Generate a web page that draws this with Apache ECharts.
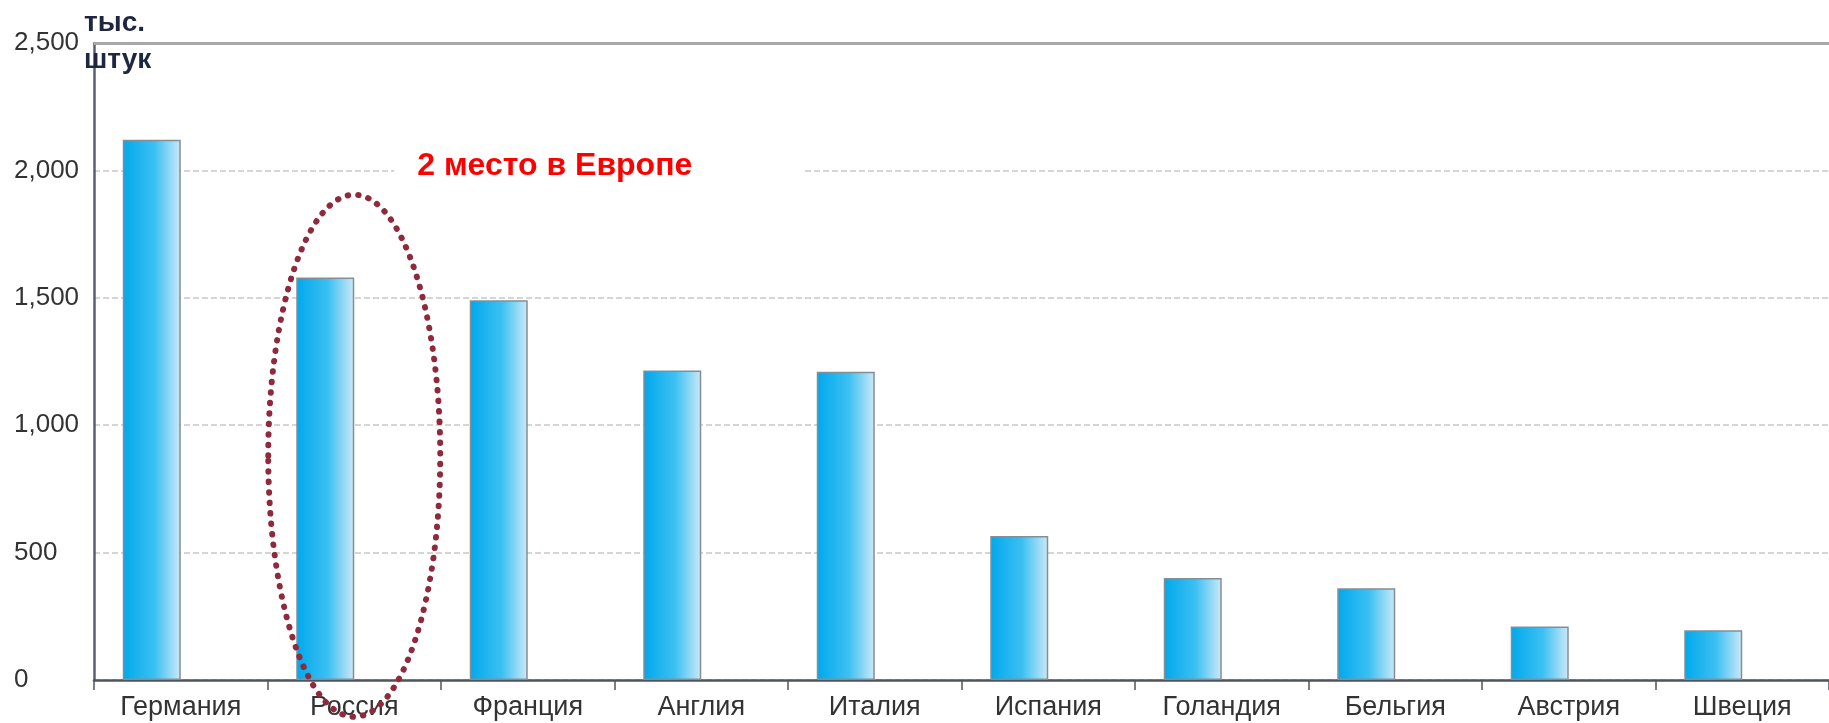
<!DOCTYPE html>
<html><head><meta charset="utf-8">
<script src="https://cdn.jsdelivr.net/npm/echarts@6/dist/echarts.min.js"></script>
<style>html,body{margin:0;padding:0;background:#fff}#c{width:1829px;height:723px}</style>
</head><body><div id="c"></div>
<script>
const categories = ['Германия','Россия','Франция','Англия','Италия','Испания','Голандия','Бельгия','Австрия','Швеция'];
const values = [2120, 1580, 1490, 1215, 1210, 565, 400, 360, 210, 195];
const yTicks = [0, 500, 1000, 1500, 2000, 2500];
const unitLabel = 'тыс.\nштук';
const noteText = '2 место в Европе';
const highlightCategory = 'Россия';

(function () {
const chart = echarts.init(document.getElementById('c'));
const font = 'Liberation Sans, Arial, sans-serif';
chart.setOption({
  animation: false,
  grid: {left: 94, right: -25, top: 43, bottom: 43, containLabel: false},
  xAxis: {
    type: 'category', data: categories,
    axisLine: {lineStyle: {color: '#50555c', width: 2.5}},
    axisTick: {show: true, length: 10, lineStyle: {color: '#50555c', width: 1.5}},
    axisLabel: {color: '#333', fontSize: 27, fontFamily: font, margin: 14}
  },
  yAxis: {
    type: 'value', min: yTicks[0], max: yTicks[yTicks.length-1], interval: 500,
    axisLine: {show: true, lineStyle: {color: '#5a6070', width: 2.5}},
    axisTick: {show: false},
    axisLabel: {color: '#333', fontSize: 26, fontFamily: font, align: 'left', margin: 80,
      formatter: v => v.toLocaleString('en-US')},
    splitLine: {lineStyle: {color: '#c8c8c8', type: [6, 3], width: 1.5}}
  },
  series: [{
    type: 'bar', data: values, barWidth: 58, barGap: '0%',
    itemStyle: {
      color: new echarts.graphic.LinearGradient(0, 0, 1, 0, [
        {offset: 0, color: '#00a8ec'}, {offset: 0.55, color: '#3cc0f2'}, {offset: 1, color: '#cde9f7'}]),
      borderColor: '#848f95', borderWidth: 1.5
    },
    markLine: {silent: true, symbol: 'none', label: {show: false},
      lineStyle: {color: '#a8a8a8', type: 'solid', width: 3},
      data: [{yAxis: yTicks[yTicks.length-1]}]}
  }, {
    type: 'bar', data: values.map(() => '-'), barWidth: 58, barGap: '0%', silent: true
  }]
});

const c = chart.convertToPixel({xAxisIndex: 0, yAxisIndex: 0}, [highlightCategory, 880]);
const y2000 = chart.convertToPixel({yAxisIndex: 0}, 2000);
const nx = chart.convertToPixel({xAxisIndex: 0}, categories[1]);
chart.setOption({graphic: [
  {type: 'text', left: 84, top: 5, z: 10,
   style: {text: unitLabel, font: 'bold 28px ' + font, fill: '#1e2740', lineHeight: 37}},
  {type: 'rect', z: 9, shape: {x: nx + 40, y: y2000 - 14, width: 408, height: 28}, style: {fill: '#fff'}},
  {type: 'text', z: 10, x: nx + 63, y: y2000 - 4,
   style: {text: noteText, font: 'bold 32px ' + font, fill: '#ff0000', textVerticalAlign: 'middle'}},
  {type: 'ellipse', z: 20, shape: {cx: c[0], cy: c[1], rx: 86, ry: 261},
   style: {fill: 'none', stroke: '#8e2a3c', lineWidth: 6, lineDash: [0.5, 10], lineCap: 'round'}}
]});
})();
</script></body></html>
